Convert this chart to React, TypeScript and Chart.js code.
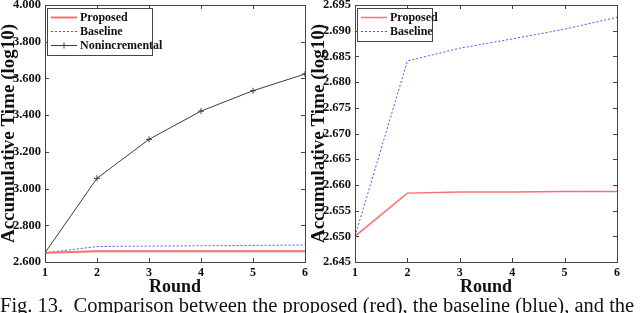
import React, { useEffect, useRef } from "react";
import { Chart, registerables } from "chart.js";

Chart.register(...registerables);

const rounds = [1, 2, 3, 4, 5, 6];
const proposedLeft = [2.65, 2.6584, 2.6586, 2.6586, 2.6587, 2.6587];
const baselineLeft = [2.65, 2.6841, 2.6866, 2.6884, 2.6903, 2.6926];
const nonincremental = [2.65, 3.056, 3.268, 3.422, 3.533, 3.624];
const proposedRight = [2.65, 2.6584, 2.6586, 2.6586, 2.6587, 2.6587];
const baselineRight = [2.65, 2.6841, 2.6866, 2.6884, 2.6903, 2.6926];
const leftYTicks = [2.6, 2.8, 3.0, 3.2, 3.4, 3.6, 3.8, 4.0];
const rightYTicks = [2.645, 2.65, 2.655, 2.66, 2.665, 2.67, 2.675, 2.68, 2.685, 2.69, 2.695];
const yTitle = "Accumulative Time (log10)";
const xTitle = "Round";
const caption = "Fig. 13.  Comparison between the proposed (red), the baseline (blue), and the";

const SERIF = "'Liberation Serif', 'Times New Roman', serif";
const RED = "rgb(255,110,110)";
const BLUE = "rgb(80,80,255)";
const BLACK = "rgb(60,60,60)";

const toPts = (ys: number[]) => rounds.map((r, i) => ({ x: r, y: ys[i] }));

const frameAndLegend = {
  id: "frameAndLegend",
  afterDatasetsDraw(chart: any, _args: any, opts: any) {
    const ctx = chart.ctx;
    const a = chart.chartArea;
    ctx.save();
    ctx.strokeStyle = "#444";
    ctx.lineWidth = 1;
    ctx.strokeRect(Math.round(a.left) + 0.5, Math.round(a.top) + 0.5, Math.round(a.right - a.left), Math.round(a.bottom - a.top));
    const xs = chart.scales.x;
    const ys = chart.scales.y;
    const tl = 4;
    ctx.beginPath();
    xs.ticks.forEach((t: any) => {
      const px = Math.round(xs.getPixelForValue(t.value)) + 0.5;
      ctx.moveTo(px, a.bottom);
      ctx.lineTo(px, a.bottom - tl);
      ctx.moveTo(px, a.top);
      ctx.lineTo(px, a.top + tl);
    });
    ys.ticks.forEach((t: any) => {
      const py = Math.round(ys.getPixelForValue(t.value)) + 0.5;
      ctx.moveTo(a.left, py);
      ctx.lineTo(a.left + tl, py);
      ctx.moveTo(a.right, py);
      ctx.lineTo(a.right - tl, py);
    });
    ctx.stroke();

    // legend box
    const ds = chart.data.datasets;
    const bx = a.left + opts.dx;
    const by = a.top + opts.dy;
    const rowH = 14;
    const bw = opts.w;
    const bh = ds.length * rowH + 5;
    ctx.fillStyle = "#fff";
    ctx.fillRect(bx, by, bw, bh);
    ctx.strokeStyle = "#444";
    ctx.strokeRect(Math.round(bx) + 0.5, Math.round(by) + 0.5, bw, bh);
    ctx.font = "bold 12px " + SERIF;
    ctx.textBaseline = "middle";
    ds.forEach((d: any, i: number) => {
      const cy = Math.round(by + 9 + i * rowH) + 0.5;
      ctx.strokeStyle = d.borderColor;
      ctx.lineWidth = d.borderWidth;
      ctx.setLineDash(d.borderDash || []);
      ctx.beginPath();
      ctx.moveTo(bx + 4, cy);
      ctx.lineTo(bx + 30, cy);
      ctx.stroke();
      ctx.setLineDash([]);
      if (d.pointRadius > 0) {
        ctx.lineWidth = 1;
        ctx.beginPath();
        ctx.moveTo(bx + 17, cy - 3);
        ctx.lineTo(bx + 17, cy + 3);
        ctx.stroke();
      }
      ctx.fillStyle = "#111";
      ctx.fillText(d.label, bx + 33, cy);
    });
    ctx.restore();
  },
};

const zeroPad = (s: any) => {
  s.paddingTop = 0;
  s.paddingBottom = 0;
  s.paddingLeft = 0;
  s.paddingRight = 0;
};

function makeConfig(datasets: any[], yMin: number, yMax: number, yTicks: number[], legendW: number, rightPad: number) {
  return {
    type: "line",
    data: { datasets },
    options: {
      animation: false,
      responsive: false,
      layout: { padding: { top: 5, right: rightPad, left: 0, bottom: 0 } },
      plugins: {
        legend: { display: false },
        tooltip: { enabled: false },
        frameAndLegend: { dx: 2, dy: 3, w: legendW },
      },
      scales: {
        x: {
          type: "linear",
          min: 1,
          max: 6,
          afterBuildTicks: (s: any) => { s.ticks = rounds.map((v) => ({ value: v })); },
          grid: { display: false, drawTicks: false },
          border: { display: false },
          ticks: { padding: 4, color: "#111", font: { family: SERIF, weight: "bold", size: 12 }, callback: (v: any) => String(v) },
          title: { display: true, text: xTitle, color: "#111", padding: { top: 0, bottom: 0 }, font: { family: SERIF, weight: "bold", size: 18, lineHeight: 1 } },
          afterFit: (s: any) => { s.height = 34; zeroPad(s); },
        },
        y: {
          type: "linear",
          min: yMin,
          max: yMax,
          afterBuildTicks: (s: any) => { s.ticks = yTicks.map((v) => ({ value: v })); },
          grid: { display: false, drawTicks: false },
          border: { display: false },
          ticks: { padding: 4, color: "#111", font: { family: SERIF, weight: "bold", size: 12.5 }, callback: (v: any) => Number(v).toFixed(3) },
          title: { display: true, text: yTitle, color: "#111", padding: { top: 0, bottom: 0 }, font: { family: SERIF, weight: "bold", size: 19, lineHeight: 1 } },
          afterFit: (s: any) => { s.width = 45; zeroPad(s); },
        },
      },
    },
    plugins: [frameAndLegend],
  };
}

function ChartBox({ config, left, width, height }: any) {
  const ref = useRef<HTMLCanvasElement>(null);
  useEffect(() => {
    const c = new Chart(ref.current as HTMLCanvasElement, config);
    return () => c.destroy();
  }, []);
  return (
    <canvas ref={ref} width={width} height={height} style={{ position: "absolute", left, top: 0, width, height }} />
  );
}

export default function App() {
  const leftDatasets = [
    { label: "Proposed", data: toPts(proposedLeft), borderColor: RED, borderWidth: 2, pointRadius: 0, tension: 0 },
    { label: "Baseline", data: toPts(baselineLeft), borderColor: BLUE, borderWidth: 1, borderDash: [2, 2], pointRadius: 0, tension: 0 },
    { label: "Nonincremental", data: toPts(nonincremental), borderColor: BLACK, borderWidth: 1, pointStyle: "cross", pointRadius: 3, pointBorderColor: BLACK, pointBorderWidth: 1, tension: 0 },
  ];
  const rightDatasets = [
    { label: "Proposed", data: toPts(proposedRight), borderColor: RED, borderWidth: 1.5, pointRadius: 0, tension: 0 },
    { label: "Baseline", data: toPts(baselineRight), borderColor: BLUE, borderWidth: 1, borderDash: [2, 2], pointRadius: 0, tension: 0 },
  ];
  return (
    <div style={{ position: "fixed", left: 0, top: 0, width: 640, height: 313, overflow: "hidden", background: "#fff" }}>
      <ChartBox config={makeConfig(leftDatasets, 2.6, 4.0, leftYTicks, 105, 4)} left={0} width={310} height={296} />
      <ChartBox config={makeConfig(rightDatasets, 2.645, 2.695, rightYTicks, 75, 23)} left={310} width={330} height={296} />
      <div style={{ position: "absolute", left: 0, top: 294, whiteSpace: "pre", fontFamily: SERIF, fontSize: 20.5, lineHeight: "22px", color: "#111" }}>
        {caption}
      </div>
    </div>
  );
}
